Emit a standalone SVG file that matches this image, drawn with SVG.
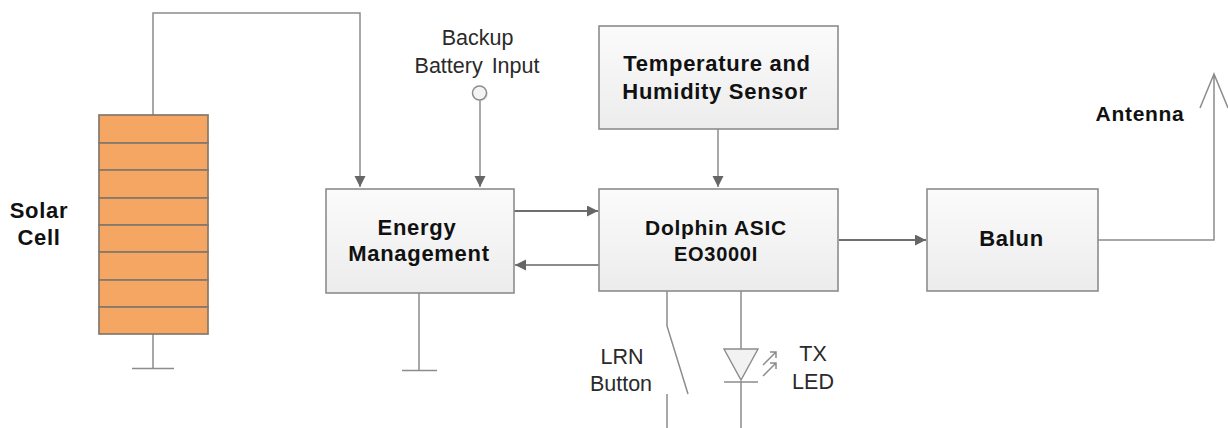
<svg xmlns="http://www.w3.org/2000/svg" width="1228" height="428" viewBox="0 0 1228 428">
<defs>
<linearGradient id="g" x1="0" y1="0" x2="0" y2="1"><stop offset="0" stop-color="#fbfbfb"/><stop offset="1" stop-color="#ececec"/></linearGradient>
<marker id="a" markerUnits="userSpaceOnUse" markerWidth="12" markerHeight="12" refX="11" refY="5.500" orient="auto"><path d="M0 0L11 5.500L0 11Z" fill="#666"/></marker>
</defs>
<style>
.box{fill:url(#g);stroke:#8c8c8c;stroke-width:1.6}
.w{fill:none;stroke:#8c8c8c;stroke-width:1.5}
.d{fill:none;stroke:#6e6e6e;stroke-width:2}
.c{fill:#f5a662;stroke:#85786c;stroke-width:1.7}
text{font-family:"Liberation Sans",Arial,sans-serif;font-size:21.500px;fill:#2a2a2a;text-anchor:middle}
.b{font-size:22px;font-weight:bold;fill:#111;letter-spacing:.7px}
.s{font-size:21px}
</style>
<rect width="1228" height="428" fill="#fff"/>
<g id="connectors">
<path class="w" d="M153 115V13H360V187" marker-end="url(#a)"/>
<path class="w" d="M153 334V368M132 368.500H174"/>
<path class="w" d="M480 100V187" marker-end="url(#a)"/>
<path class="w" d="M419 293V370M402 370.500H437"/>
<path class="w" d="M718 129V187" marker-end="url(#a)"/>
<path class="d" d="M514 211H598" marker-end="url(#a)"/>
<path class="d" stroke-opacity=".8" d="M599 265H515" marker-end="url(#a)"/>
<path class="d" d="M839 240H926" marker-end="url(#a)"/>
<path class="w" d="M1098 240H1214V74M1200 108L1214 74L1228 108"/>
<path class="w" d="M667 291V326L688 394M667 394V428"/>
<path class="w" d="M741 291V349M741 381V428"/>
</g>
<g id="solar-cell">
<rect class="c" x="99" y="115" width="109" height="28"/>
<rect class="c" x="99" y="143" width="109" height="27"/>
<rect class="c" x="99" y="170" width="109" height="28"/>
<rect class="c" x="99" y="198" width="109" height="27"/>
<rect class="c" x="99" y="225" width="109" height="27"/>
<rect class="c" x="99" y="252" width="109" height="28"/>
<rect class="c" x="99" y="280" width="109" height="27"/>
<rect class="c" x="99" y="307" width="109" height="27"/>
<text class="b" x="39" y="218">Solar</text>
<text class="b" x="39" y="245">Cell</text>
</g>
<g id="backup-input">
<circle cx="481" cy="94" r="7" fill="#d8d8d8" opacity=".6"/>
<circle cx="479.500" cy="93" r="7" fill="#f4f4f4" stroke="#8c8c8c" stroke-width="1.5"/>
<text x="477.500" y="45">Backup</text>
<text x="477" y="73" word-spacing="3">Battery Input</text>
</g>
<g id="energy-management">
<rect class="box" x="326" y="189" width="188" height="104"/>
<text class="b" x="417" y="235">Energy</text>
<text class="b" x="419" y="261">Management</text>
</g>
<g id="sensor">
<rect class="box" x="599" y="26" width="239" height="103"/>
<text class="b" x="717" y="71">Temperature and</text>
<text class="b" x="715" y="99">Humidity Sensor</text>
</g>
<g id="asic">
<rect class="box" x="599" y="189" width="239" height="102"/>
<text class="b s" x="716" y="235">Dolphin ASIC</text>
<text class="b" style="font-size:20px" x="716" y="261">EO3000I</text>
</g>
<g id="balun">
<rect class="box" x="927" y="189" width="171" height="102"/>
<text class="b" x="1011.500" y="246">Balun</text>
</g>
<g id="antenna"><text class="b s" x="1140" y="121">Antenna</text></g>
<g id="lrn-button">
<text x="622" y="364">LRN</text>
<text x="621" y="391">Button</text>
</g>
<g id="tx-led">
<path d="M724 349H758L741 380Z" fill="#f2f2f2" stroke="#8c8c8c" stroke-width="1.4"/>
<path class="w" d="M724 382H758"/>
<path class="w" d="M763 365L776 352M770 352H776V358M763 376L776 363M770 363H776V369"/>
<text x="813" y="361">TX</text>
<text x="813" y="389">LED</text>
</g>
</svg>
